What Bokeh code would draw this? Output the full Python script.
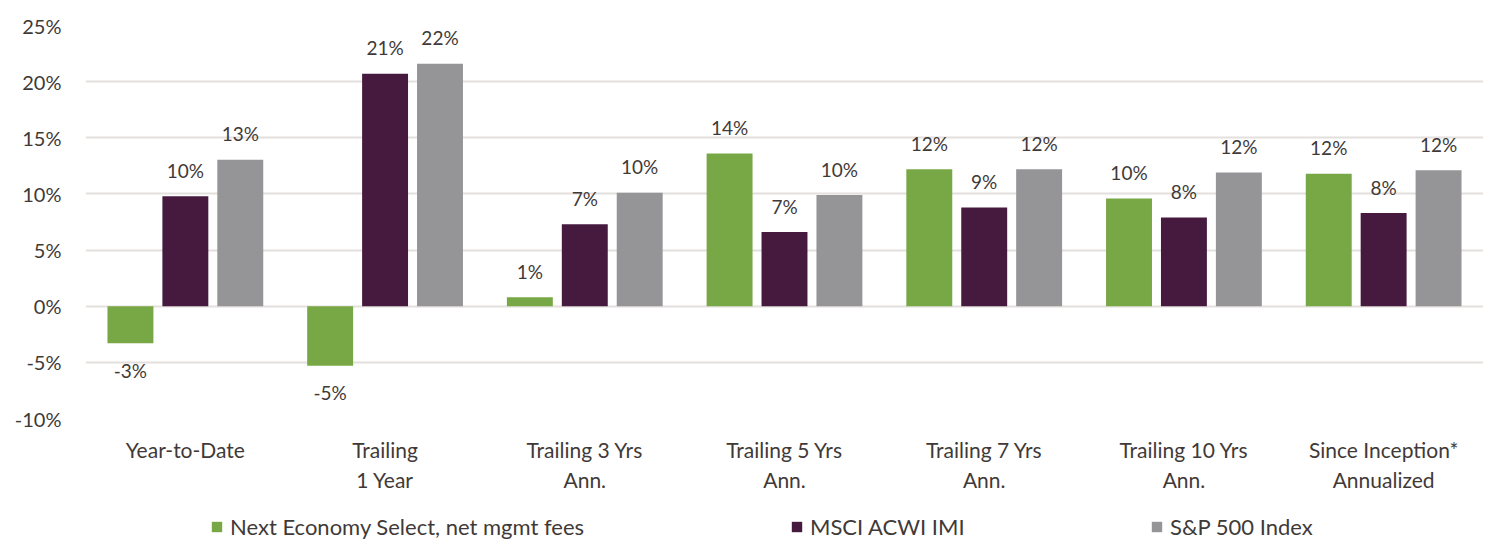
from bokeh.plotting import figure
from bokeh.models import (ColumnDataSource, FactorRange, Range1d, FixedTicker,
                          PrintfTickFormatter, Legend, LegendItem)
from bokeh.layouts import column
from bokeh.transform import dodge
from bokeh.core.properties import value
from bokeh.embed import file_html
from bokeh.resources import INLINE

categories = ["Year-to-Date", "Trailing\n1 Year", "Trailing 3 Yrs\nAnn.",
              "Trailing 5 Yrs\nAnn.", "Trailing 7 Yrs\nAnn.",
              "Trailing 10 Yrs\nAnn.", "Since Inception*\nAnnualized"]
series_names = ["Next Economy Select, net mgmt fees", "MSCI ACWI IMI", "S&P 500 Index"]
nes = [-3.3, -5.3, 0.8, 13.6, 12.2, 9.6, 11.8]
msci = [9.8, 20.7, 7.3, 6.6, 8.8, 7.9, 8.3]
sp500 = [13.05, 21.6, 10.1, 9.9, 12.2, 11.9, 12.1]
y_ticks = [-10, -5, 0, 5, 10, 15, 20, 25]

colors = ["#78A846", "#461A3E", "#959597"]
offsets = [-0.275, 0.0, 0.275]
FONT = "Lato"
TXT = "#3F3A38"
W = 1483

p = figure(width=W, height=508, x_range=FactorRange(*categories, range_padding=0),
           y_range=Range1d(-10, 25), output_backend="svg", toolbar_location=None,
           min_border_top=25, min_border_left=85, min_border_right=0, min_border_bottom=90)
p.outline_line_color = None
p.xgrid.grid_line_color = None
p.ygrid.grid_line_color = "#E4E0DE"
p.ygrid.grid_line_width = 2
p.yaxis.ticker = FixedTicker(ticks=y_ticks)
p.yaxis.formatter = PrintfTickFormatter(format="%d%%")
for ax in (p.xaxis[0], p.yaxis[0]):
    ax.axis_line_color = None
    ax.major_tick_line_color = None
    ax.minor_tick_line_color = None
    ax.major_label_text_font = FONT
    ax.major_label_text_color = TXT
p.yaxis.major_label_text_font_size = "20px"
p.yaxis.major_label_standoff = 18
p.xaxis.major_label_text_font_size = "21px"
p.xaxis.major_label_text_line_height = 1.2
p.xaxis.major_label_standoff = 12

for name, vals, col, off in zip(series_names, [nes, msci, sp500], colors, offsets):
    labels = [f"{round(v):d}%" for v in vals]
    yoff = [-26 if v >= 0 else 27 for v in vals]
    src = ColumnDataSource(dict(x=categories, y=vals, label=labels, yoff=yoff))
    p.vbar(x=dodge("x", off, range=p.x_range), top="y", bottom=0, width=0.23,
           source=src, fill_color=col, line_color=None)
    p.text(x=dodge("x", off, range=p.x_range), y="y", text="label", y_offset="yoff",
           source=src, text_font=value(FONT), text_font_size="19px", text_color=TXT,
           text_align="center", text_baseline="middle")

# legend strip below the chart
lg = figure(width=W, height=32, x_range=Range1d(0, 1), y_range=Range1d(0, 1),
            output_backend="svg", toolbar_location=None, min_border=0,
            min_border_left=85, x_axis_location=None, y_axis_location=None)
lg.grid.visible = False
lg.outline_line_color = None
leg_x = [125, 705, 1065]
for name, col, lx in zip(series_names, colors, leg_x):
    r = lg.vbar(x=[5], top=[5], width=0.1, fill_color=col, line_color=None)
    leg = Legend(items=[LegendItem(label=name, renderers=[r])], location=(lx, 0),
                 orientation="horizontal", glyph_width=13, glyph_height=13,
                 label_standoff=7, padding=0, margin=0, border_line_color=None,
                 background_fill_alpha=0,
                 label_text_font=FONT, label_text_font_size="22px", label_text_color=TXT)
    lg.add_layout(leg)

open("out.html", "w").write(file_html(column(p, lg, spacing=0), INLINE))
